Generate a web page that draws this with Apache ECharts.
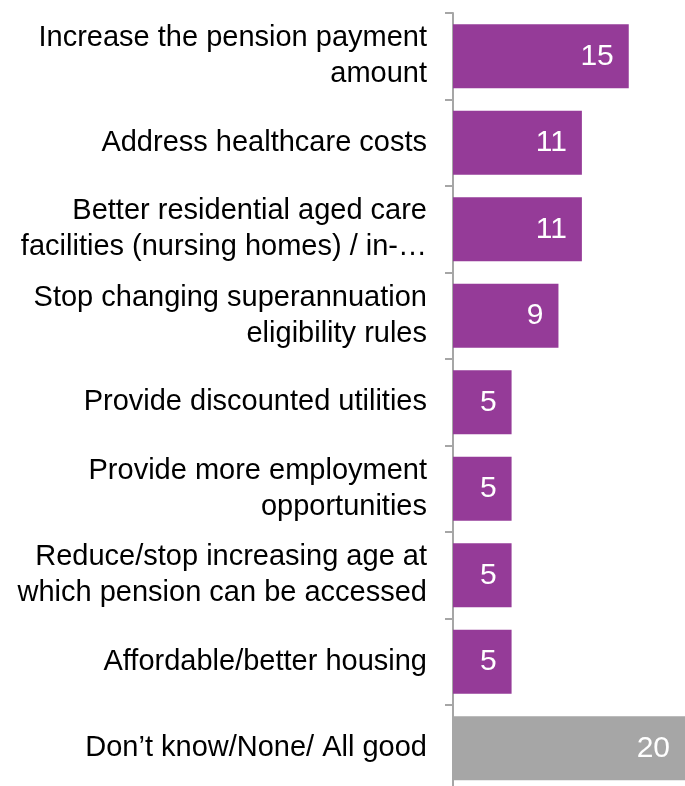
<!DOCTYPE html>
<html>
<head>
<meta charset="utf-8">
<script src="https://cdn.jsdelivr.net/npm/echarts@6/dist/echarts.min.js"></script>
<style>
  html, body { margin: 0; padding: 0; background: #fff; }
  #chart { width: 685px; height: 786px; }
</style>
</head>
<body>
<div id="chart"></div>
<script>
// 类目（从上到下）
const categories = [
  'Increase the pension payment\namount',
  'Address healthcare costs',
  'Better residential aged care\nfacilities (nursing homes) / in-…',
  'Stop changing superannuation\neligibility rules',
  'Provide discounted utilities',
  'Provide more employment\nopportunities',
  'Reduce/stop increasing age at\nwhich pension can be accessed',
  'Affordable/better housing',
  'Don\u2019t know/None/ All good'
]
// 数值
const values = [15, 11, 11, 9, 5, 5, 5, 5, 20]
// 灰色的那一项
const greyCategory = 'Don\u2019t know/None/ All good'

const PURPLE = '#953B98'
const GREY = '#A6A6A6'

const chart = echarts.init(document.getElementById('chart'))

const option = {
  animation: false,
  grid: {
    left: 453,
    top: 13,
    width: 232,
    height: 778.5,
    outerBoundsMode: 'none'
  },
  xAxis: {
    type: 'value',
    min: 0,
    max: 19.8,
    show: false
  },
  yAxis: {
    type: 'category',
    inverse: true,
    data: categories,
    axisLine: {
      show: true,
      lineStyle: { color: '#A6A6A6', width: 2 }
    },
    axisTick: {
      show: true,
      length: 8,
      lineStyle: { color: '#A6A6A6', width: 2 }
    },
    axisLabel: {
      margin: 26,
      color: '#000',
      fontFamily: 'Liberation Sans, Arial, sans-serif',
      fontSize: 29,
      lineHeight: 36,
      align: 'right'
    }
  },
  series: [
    {
      type: 'bar',
      barCategoryGap: '26%',
      data: values.map((v, i) => ({
        value: v,
        itemStyle: { color: categories[i] === greyCategory ? GREY : PURPLE }
      })),
      label: {
        show: true,
        position: 'insideRight',
        distance: 15,
        color: '#fff',
        fontFamily: 'Liberation Sans, Arial, sans-serif',
        fontSize: 30
      }
    }
  ]
}

chart.setOption(option)
</script>
</body>
</html>
